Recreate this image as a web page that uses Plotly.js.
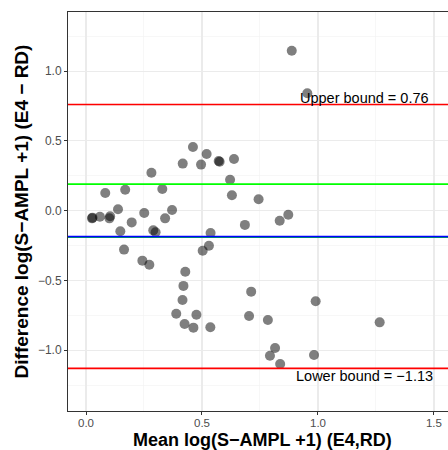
<!DOCTYPE html>
<html>
<head>
<meta charset="utf-8">
<script src="https://cdn.plot.ly/plotly-3.0.1.min.js"></script>
<style>html,body{margin:0;padding:0;background:#fff;overflow:hidden;}#wrap{width:448px;height:450px;overflow:hidden;}</style>
</head>
<body>
<div id="wrap"><div id="chart"></div></div>
<script>
// Mean of the two log measurements (x) and their difference (y)
const meanVals = [0.887, 0.954, 0.461, 0.520, 0.572, 0.576, 0.638, 0.417, 0.496, 0.282,
  0.621, 0.329, 0.169, 0.083, 0.629, 0.744, 0.026, 0.028, 0.060, 0.101,
  0.104, 0.138, 0.251, 0.197, 0.148, 0.290, 0.300, 0.341, 0.371, 0.164,
  0.243, 0.273, 0.537, 0.530, 0.503, 0.685, 0.835, 0.872, 0.428, 0.420,
  0.416, 0.389, 0.425, 0.463, 0.476, 0.536, 0.712, 0.703, 0.784, 0.990,
  1.266, 0.815, 0.793, 0.837, 0.983];
const diffVals = [1.146, 0.841, 0.456, 0.406, 0.356, 0.350, 0.370, 0.337, 0.330, 0.272,
  0.222, 0.155, 0.150, 0.127, 0.110, 0.082, -0.055, -0.050, -0.043, -0.055,
  -0.040, 0.010, -0.017, -0.084, -0.148, -0.141, -0.155, -0.055, 0.005, -0.279,
  -0.358, -0.387, -0.160, -0.251, -0.287, -0.102, -0.072, -0.029, -0.437, -0.539,
  -0.640, -0.738, -0.812, -0.838, -0.745, -0.835, -0.580, -0.754, -0.783, -0.649,
  -0.800, -0.984, -1.039, -1.098, -1.034];
const upperBound = 0.76;
const lowerBound = -1.13;
const meanDiff = -0.186;
const greenLimits = [0.19, -0.19];
const xTicks = [0.0, 0.5, 1.0, 1.5];
const yTicks = [-1.0, -0.5, 0.0, 0.5, 1.0];
const xTitle = 'Mean log(S\u2212AMPL +1) (E4,RD)';
const yTitle = 'Difference log(S\u2212AMPL +1) (E4 \u2212 RD)';

const fmt = v => (v < 0 ? '\u2212' : '') + Math.abs(v).toFixed(1);

const trace = {
  x: meanVals, y: diffVals, type: 'scatter', mode: 'markers',
  marker: {size: 10, color: 'rgba(0,0,0,0.5)', line: {width: 0}},
  hoverinfo: 'skip', showlegend: false
};

function hline(y, color) {
  return {type: 'line', xref: 'paper', x0: 0, x1: 1, yref: 'y', y0: y, y1: y,
    line: {color: color, width: 1.6}, layer: 'above'};
}

const shapes = [
  hline(greenLimits[0], '#00FF00'),
  hline(greenLimits[1], '#00FF00'),
  hline(meanDiff, '#0000FF'),
  hline(upperBound, '#FF0000'),
  hline(lowerBound, '#FF0000')
];

const gridCol = '#EBEBEB';
const layout = {
  width: 456, height: 450,
  margin: {l: 68, r: 0, t: 12, b: 39},
  paper_bgcolor: '#fff', plot_bgcolor: '#fff',
  font: {family: 'Liberation Sans, Arial, sans-serif', color: '#000'},
  xaxis: {
    range: [-0.0776, 1.595], tickvals: xTicks, ticktext: xTicks.map(fmt),
    showgrid: true, gridcolor: gridCol, gridwidth: 1.1,
    minor: {tickvals: [0.25, 0.75, 1.25], showgrid: true, gridcolor: '#F2F2F2', gridwidth: 0.6, ticks: ''},
    zeroline: false, showline: true, mirror: true, linecolor: '#333333', linewidth: 1,
    ticks: 'outside', ticklen: 3, tickcolor: '#333333', ticklabelstandoff: -2,
    tickfont: {size: 11.5, color: '#4D4D4D'}
  },
  yaxis: {
    range: [-1.435, 1.423], tickvals: yTicks, ticktext: yTicks.map(fmt),
    showgrid: true, gridcolor: gridCol, gridwidth: 1.1,
    minor: {tickvals: [-1.25, -0.75, -0.25, 0.25, 0.75, 1.25], showgrid: true, gridcolor: '#F2F2F2', gridwidth: 0.6, ticks: ''},
    zeroline: false, showline: true, mirror: true, linecolor: '#333333', linewidth: 1,
    ticks: 'outside', ticklen: 3, tickcolor: '#333333',
    tickfont: {size: 12, color: '#4D4D4D'},
    title: {text: yTitle, font: {size: 19, color: '#000', weight: 'bold'}, standoff: 4}
  },
  shapes: shapes,
  annotations: [
    {x: 0.5, xref: 'paper', xanchor: 'center', y: -40 / 399, yref: 'paper', yanchor: 'bottom',
     showarrow: false, borderpad: 0, text: xTitle, font: {size: 18, color: '#000', weight: 'bold'}},
    {x: 1.2, y: upperBound + 0.05, xref: 'x', yref: 'y', showarrow: false,
     text: 'Upper bound = ' + upperBound.toFixed(2), font: {size: 14.5, color: '#000'}},
    {x: 1.2, y: lowerBound - 0.055, xref: 'x', yref: 'y', showarrow: false,
     text: 'Lower bound = \u2212' + Math.abs(lowerBound).toFixed(2), font: {size: 14.5, color: '#000'}}
  ]
};

Plotly.newPlot('chart', [trace], layout, {staticPlot: true, displayModeBar: false});
</script>
</body>
</html>
